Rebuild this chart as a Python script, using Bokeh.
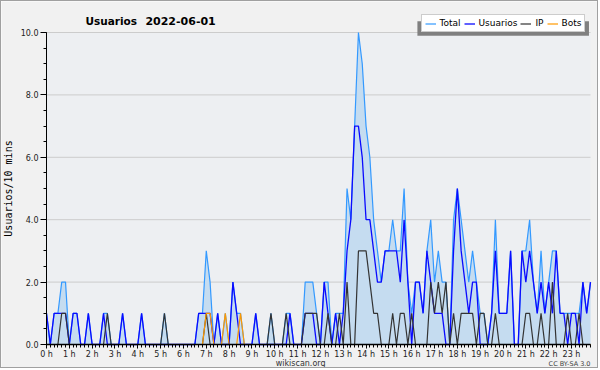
from bokeh.plotting import figure
from bokeh.models import (Range1d, FixedTicker, PrintfTickFormatter, Legend, LegendItem,
                          Label, BoxAnnotation)
from bokeh.embed import file_html
from bokeh.resources import INLINE

# 10-minute slots over the day (0..143)
slots = list(range(144))

hour_labels = ["0 h", "1 h", "2 h", "3 h", "4 h", "5 h", "6 h", "7 h", "8 h", "9 h",
               "10 h", "11 h", "12 h", "13 h", "14 h", "15 h", "16 h", "17 h", "18 h",
               "19 h", "20 h", "21 h", "22 h", "23 h"]

usuarios = [1, 0, 1, 1, 1, 1, 0, 1, 1, 0, 0, 1,
            0, 0, 0, 1, 0, 0, 0, 0, 1, 0, 0, 0,
            0, 1, 0, 0, 0, 0, 0, 0, 0, 0, 0, 0,
            0, 0, 0, 0, 1, 1, 1, 1, 0, 1, 0, 0,
            0, 2, 1, 0, 0, 0, 0, 1, 0, 0, 0, 0,
            0, 0, 0, 0, 1, 0, 0, 0, 1, 1, 1, 0,
            0, 2, 1, 0, 1, 0, 1, 3, 4, 7, 7, 6,
            4, 4, 3, 2, 2, 3, 3, 3, 3, 2, 4, 2,
            0, 2, 2, 1, 3, 2, 1, 1, 1, 0, 0, 3,
            5, 3, 2, 1, 2, 2, 0, 0, 0, 1, 3, 1,
            1, 1, 3, 0, 0, 3, 2, 3, 2, 1, 2, 1,
            2, 1, 3, 1, 1, 0, 1, 1, 0, 2, 1, 2]

ip = [0, 0, 0, 0, 1, 1, 0, 0, 0, 0, 0, 0,
      0, 0, 0, 0, 1, 0, 0, 0, 0, 0, 0, 0,
      0, 0, 0, 0, 0, 0, 0, 1, 0, 0, 0, 0,
      0, 0, 0, 0, 0, 0, 1, 0, 0, 0, 0, 0,
      0, 0, 0, 0, 0, 0, 0, 0, 0, 0, 0, 1,
      0, 0, 0, 1, 0, 0, 0, 0, 1, 1, 1, 1,
      0, 0, 1, 0, 0, 1, 0, 2, 0, 0, 3, 3,
      3, 2, 1, 1, 0, 0, 0, 1, 0, 1, 1, 0,
      1, 0, 0, 0, 0, 2, 1, 2, 1, 2, 0, 1,
      0, 1, 1, 1, 1, 0, 1, 1, 0, 0, 1, 0,
      0, 0, 0, 0, 0, 0, 1, 1, 0, 0, 1, 0,
      0, 2, 0, 0, 0, 1, 0, 0, 1, 0, 0, 0]

bots = [0, 0, 0, 0, 0, 0, 0, 0, 0, 0, 0, 0,
        0, 0, 0, 0, 0, 0, 0, 0, 0, 0, 0, 0,
        0, 0, 0, 0, 0, 0, 0, 0, 0, 0, 0, 0,
        0, 0, 0, 0, 0, 0, 1, 1, 0, 0, 0, 1,
        0, 0, 0, 1, 0, 0, 0, 0, 0, 0, 0, 0,
        0, 0, 0, 0, 0, 0, 0, 0, 0, 0, 0, 0,
        0, 0, 0, 0, 0, 0, 0, 0, 0, 0, 0, 0,
        0, 0, 0, 0, 0, 0, 0, 0, 0, 0, 0, 0,
        0, 0, 0, 0, 0, 0, 0, 0, 0, 0, 0, 0,
        0, 0, 0, 0, 0, 0, 0, 0, 0, 0, 0, 0,
        0, 0, 0, 0, 0, 0, 0, 0, 0, 0, 0, 0,
        0, 0, 0, 0, 0, 0, 0, 0, 0, 0, 0, 0]

total = [1, 0, 1, 1, 2, 2, 0, 1, 1, 0, 0, 1,
         0, 0, 0, 1, 1, 0, 0, 0, 1, 0, 0, 0,
         0, 1, 0, 0, 0, 0, 0, 1, 0, 0, 0, 0,
         0, 0, 0, 0, 1, 1, 3, 2, 0, 1, 0, 1,
         0, 2, 1, 1, 0, 0, 0, 1, 0, 0, 0, 1,
         0, 0, 0, 1, 1, 0, 0, 0, 2, 2, 2, 1,
         0, 2, 2, 0, 1, 1, 1, 5, 4, 7, 10, 9,
         7, 6, 4, 3, 2, 3, 3, 4, 3, 3, 5, 2,
         1, 2, 2, 1, 3, 4, 2, 3, 2, 2, 0, 4,
         5, 4, 3, 2, 3, 2, 1, 1, 0, 1, 4, 1,
         1, 1, 3, 0, 0, 3, 3, 4, 2, 1, 3, 1,
         2, 3, 3, 1, 1, 1, 1, 1, 1, 2, 1, 2]

y_major = [0, 2, 4, 6, 8, 10]
y_minor = [0, 0.5, 1, 1.5, 2, 2.5, 3, 3.5, 4, 4.5, 5, 5.5, 6, 6.5, 7, 7.5, 8, 8.5, 9, 9.5, 10]

FONT = "DejaVu Sans"
OUTER = "#f1f1f1"
INNER = "#edeff2"

X0, X1 = slots[0], slots[-1]
Y0, Y1 = y_major[0], y_major[-1]

# the frame spans the whole canvas; the data area 0..143 x 0..10 sits inside it
p = figure(width=598, height=368, x_range=Range1d(-11.83, 145.366),
           y_range=Range1d(-0.8013, 10.9936),
           output_backend="svg", toolbar_location=None,
           min_border_left=0, min_border_right=0, min_border_top=0, min_border_bottom=0,
           background_fill_color=OUTER, border_fill_color=OUTER)
p.styles = {"border": "1px solid #a0a0a0"}
p.outline_line_color = None
p.xgrid.visible = False
p.ygrid.visible = False

# plot-area background
p.add_layout(BoxAnnotation(left=X0, right=X1, bottom=Y0, top=Y1, fill_color=INNER,
                           fill_alpha=1.0, line_color=None, level="underlay"))

# horizontal grid lines across the data area
p.segment(x0=[X0] * len(y_major), x1=[X1] * len(y_major), y0=y_major, y1=y_major,
          line_color="#cccccc", line_width=1)

# glyphs
p.varea(x=slots, y1=[0] * len(slots), y2=total, fill_color="#c5dcf0")
r_total = p.line(slots, total, line_color="#3399ff", line_width=1.2)
r_usu = p.line(slots, usuarios, line_color="#0a0aff", line_width=1.3)
r_ip = p.line(slots, ip, line_color="#333333", line_width=1.2)
r_bots = p.line(slots, bots, line_color="#ff9900", line_width=1.2)

# x axis, pinned at y = 0
hour_ticks = [6 * h for h in range(24)]
xa = p.xaxis[0]
xa.fixed_location = 0
xa.bounds = (X0, X1)
xa.ticker = FixedTicker(ticks=hour_ticks, minor_ticks=slots)
xa.major_label_overrides = {t: lab for t, lab in zip(hour_ticks, hour_labels)}
xa.major_tick_in = 0
xa.major_tick_out = 4
xa.minor_tick_in = 0
xa.minor_tick_out = 3
xa.axis_line_width = 1.6
xa.axis_line_color = "black"
xa.major_tick_line_color = "black"
xa.minor_tick_line_color = "black"
xa.major_label_text_font = FONT
xa.major_label_text_font_size = "8px"
xa.major_label_text_color = "#222222"
xa.major_label_standoff = 2

# y axis, pinned at x = 0
ya = p.yaxis[0]
ya.fixed_location = 0
ya.bounds = (Y0, Y1)
ya.ticker = FixedTicker(ticks=y_major, minor_ticks=y_minor)
ya.formatter = PrintfTickFormatter(format="%.1f")
ya.major_tick_in = 0
ya.major_tick_out = 6
ya.minor_tick_in = 0
ya.minor_tick_out = 3
ya.axis_line_color = "black"
ya.major_tick_line_color = "black"
ya.minor_tick_line_color = "black"
ya.major_label_text_font = FONT
ya.major_label_text_font_size = "8px"
ya.major_label_text_color = "#222222"
ya.major_label_standoff = 2
ya.axis_label = "Usuarios/10 mins"
ya.axis_label_text_font = "DejaVu Sans Mono"
ya.axis_label_text_font_size = "10px"
ya.axis_label_text_font_style = "normal"
ya.axis_label_text_color = "black"
ya.axis_label_standoff = 4

# title (two pieces so the wide gap is kept)
p.add_layout(Label(x=10.25, y=10.362, text="Usuarios", text_font=FONT,
                   text_font_size="10.5px", text_font_style="bold", text_color="black",
                   text_baseline="alphabetic", text_align="left"))
p.add_layout(Label(x=26.0, y=10.362, text="2022-06-01", text_font=FONT,
                   text_font_size="11px", text_font_style="bold", text_color="black",
                   text_baseline="alphabetic", text_align="left"))

# footer texts
p.add_layout(Label(x=66.8, y=-0.60, text="wikiscan.org", text_font=FONT,
                   text_font_size="8px", text_color="#333333",
                   text_baseline="alphabetic", text_align="center"))
p.add_layout(Label(x=143, y=-0.62, text="CC BY-SA 3.0", text_font=FONT,
                   text_font_size="6.5px", text_color="#444444",
                   text_baseline="alphabetic", text_align="right"))

# legend shadow
p.add_layout(BoxAnnotation(left=97.5, right=142.6, top=10.36, bottom=9.894,
                           fill_color="#808080", fill_alpha=1.0, line_color=None))

legend = Legend(items=[LegendItem(label="Total", renderers=[r_total]),
                       LegendItem(label="Usuarios", renderers=[r_usu]),
                       LegendItem(label="IP", renderers=[r_ip]),
                       LegendItem(label="Bots", renderers=[r_bots])],
                orientation="horizontal", location=(419.5, 337), margin=0,
                padding=3, spacing=3, label_standoff=4, glyph_width=11, glyph_height=9,
                label_width=0, label_height=9, label_text_font=FONT,
                label_text_font_size="9px",
                label_text_color="black", border_line_color="#999999",
                border_line_width=1, background_fill_color="white",
                background_fill_alpha=1.0)
p.add_layout(legend)

open("out.html", "w").write(file_html(p, INLINE))
